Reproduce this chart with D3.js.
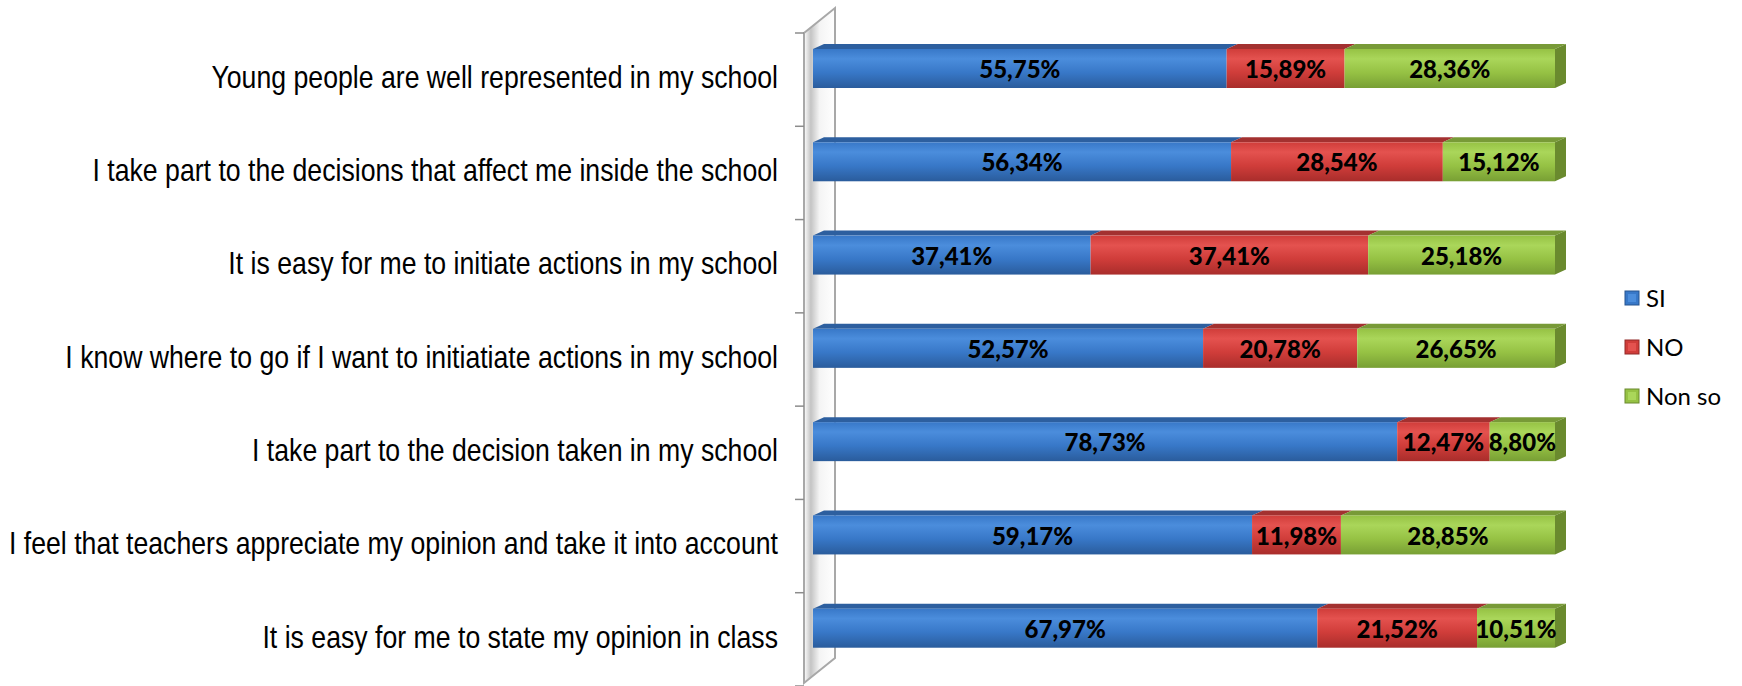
<!DOCTYPE html>
<html>
<head>
<meta charset="utf-8">
<script src="https://cdn.jsdelivr.net/npm/d3@7"></script>
<style>
html,body{margin:0;padding:0;background:#fff;}
svg{display:block;}
</style>
</head>
<body>
<svg id="chart" width="1742" height="686"></svg>
<script>
const categories = [
  "Young people are well represented in my school",
  "I take part to the decisions that affect me inside the school",
  "It is easy for me to initiate actions in my school",
  "I know where to go if I want to initiatiate actions in my school",
  "I take part to the decision taken in my school",
  "I feel that teachers appreciate my opinion and take it into account",
  "It is easy for me to state my opinion in class"
];
const seriesNames = ["SI", "NO", "Non so"];
const siValues    = [55.75, 56.34, 37.41, 52.57, 78.73, 59.17, 67.97];
const noValues    = [15.89, 28.54, 37.41, 20.78, 12.47, 11.98, 21.52];
const nonsoValues = [28.36, 15.12, 25.18, 26.65, 8.80, 28.85, 10.51];

const svg = d3.select("#chart");
const defs = svg.append("defs");

const palette = [
  {front:["#4b8ddc","#3878c8","#2a5c9c"], top:"#2d5f9f", side:"#27558f", name:"blue"},
  {front:["#e4524f","#d03d3a","#a92d2b"], top:"#a33130", side:"#922a28", name:"red"},
  {front:["#aad65a","#96c244","#789f34"], top:"#789a37", side:"#6a8a2e", name:"green"}
];
palette.forEach(p => {
  const g = defs.append("linearGradient").attr("id","g-"+p.name)
    .attr("x1",0).attr("y1",0).attr("x2",0).attr("y2",1);
  g.append("stop").attr("offset","0%").attr("stop-color",p.front[1]);
  g.append("stop").attr("offset","25%").attr("stop-color",p.front[0]);
  g.append("stop").attr("offset","60%").attr("stop-color",p.front[1]);
  g.append("stop").attr("offset","100%").attr("stop-color",p.front[2]);
});
const wg = defs.append("linearGradient").attr("id","wallg")
  .attr("x1",0).attr("y1",0).attr("x2",1).attr("y2",0);
wg.append("stop").attr("offset","0%").attr("stop-color","#ffffff");
wg.append("stop").attr("offset","22%").attr("stop-color","#c4c4c4");
wg.append("stop").attr("offset","50%").attr("stop-color","#f4f4f4");
wg.append("stop").attr("offset","100%").attr("stop-color","#ffffff");

// scales
const x = d3.scaleLinear().domain([0,100]).range([813,1555]);
const y = d3.scaleBand().domain(categories).range([33,686]).padding(0);
const step = y.step();

// 3D parameters
const depthX = 31, depthY = 25;      // wall depth
const barDX = 11, barDY = 5;         // bar top/side depth
const barOff = 16, barH = 39;

// wall
const wx0 = 804, wTop = 33, wBot = 683;
const wallPts = [[wx0,wTop],[wx0+depthX,wTop-depthY],[wx0+depthX,wBot-depthY],[wx0,wBot]];
svg.append("polygon").attr("points", wallPts.map(p=>p.join(",")).join(" "))
  .attr("fill","url(#wallg)").attr("stroke","#a8a8a8").attr("stroke-width",2);

// ticks
const tickYs = categories.map(c => y(c)).concat([y.range()[1]]);
svg.selectAll("line.tick").data(tickYs).enter().append("line")
  .attr("x1",795).attr("x2",wx0).attr("y1",d=>d).attr("y2",d=>d)
  .attr("stroke","#8c8c8c").attr("stroke-width",1.5);

// data rows
const rows = categories.map((c,i) => {
  const vals = [siValues[i], noValues[i], nonsoValues[i]];
  let acc = 0;
  return {cat:c, segs: vals.map((v,k) => { const s = {k, v, x0: acc, x1: acc+v}; acc += v; return s; })};
});

const fmt = v => d3.format(".2f")(v).replace(".", ",") + "%";

rows.forEach(r => {
  const g = svg.append("g");
  const y0 = y(r.cat) + barOff;
  r.segs.forEach(s => {
    const a = x(s.x0), b = x(s.x1);
    g.append("polygon")
      .attr("points", [[a,y0],[a+barDX,y0-barDY],[b+barDX,y0-barDY],[b,y0]].map(p=>p.join(",")).join(" "))
      .attr("fill", palette[s.k].top);
  });
  const last = r.segs[r.segs.length-1];
  const xe = x(last.x1);
  g.append("polygon")
    .attr("points", [[xe,y0],[xe+barDX,y0-barDY],[xe+barDX,y0+barH-barDY],[xe,y0+barH]].map(p=>p.join(",")).join(" "))
    .attr("fill", palette[last.k].side);
  r.segs.forEach(s => {
    g.append("rect").attr("x", x(s.x0)).attr("y", y0)
      .attr("width", x(s.x1)-x(s.x0)).attr("height", barH)
      .attr("fill", "url(#g-"+palette[s.k].name+")");
  });
  r.segs.forEach(s => {
    g.append("text").attr("x", (x(s.x0)+x(s.x1))/2).attr("y", y0 + barH/2 + 1)
      .attr("dy","0.36em").attr("text-anchor","middle")
      .attr("font-family","Lato, 'Open Sans', sans-serif").attr("font-weight","900")
      .attr("font-size",24).attr("fill","#000").text(fmt(s.v));
  });
});

// category labels
svg.selectAll("text.cat").data(categories).enter().append("text")
  .attr("class","cat")
  .attr("transform", d => `translate(778,${y(d)+step/2-3}) scale(0.86,1)`)
  .attr("dy","0.36em").attr("text-anchor","end")
  .attr("font-family","'Liberation Sans', Arial, sans-serif").attr("font-size",31)
  .attr("fill","#000").text(d=>d);

// legend
const legY = [298, 347, 396];
const leg = svg.selectAll("g.leg").data(seriesNames).enter().append("g")
  .attr("transform",(d,i)=>`translate(1625,${legY[i]})`);
leg.append("rect").attr("x",0).attr("y",-7).attr("width",14).attr("height",14)
  .attr("fill",(d,i)=>palette[i].front[1]).attr("stroke",(d,i)=>palette[i].side).attr("stroke-width",1);
leg.append("rect").attr("x",3).attr("y",-4).attr("width",8).attr("height",8)
  .attr("fill",(d,i)=>palette[i].front[0]);
leg.append("text").attr("x",21).attr("y",0).attr("dy","0.36em")
  .attr("font-family","Lato, 'Open Sans', sans-serif").attr("font-size",24)
  .attr("fill","#000").text(d=>d);
</script>
</body>
</html>
